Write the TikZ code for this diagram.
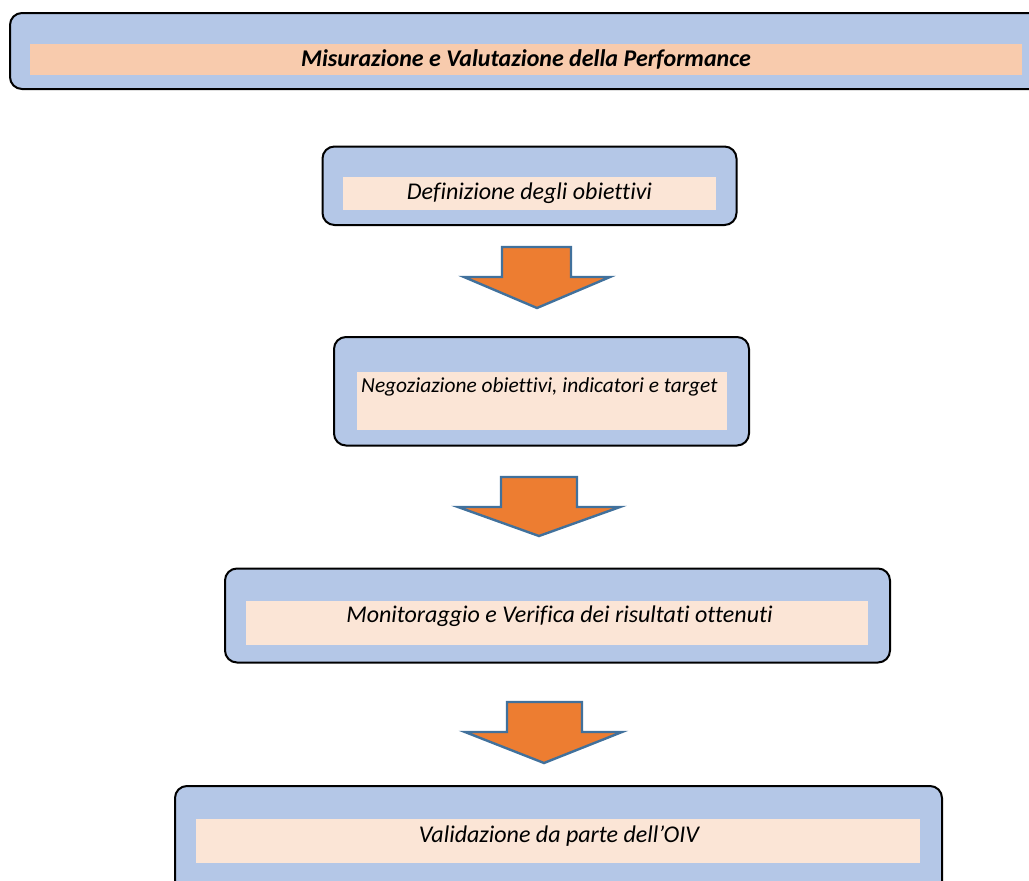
\documentclass[tikz,border=0pt]{standalone}
\usepackage{fontspec}
\setmainfont{Carlito}[Ligatures=CommonOff]
\definecolor{boxblue}{HTML}{B4C7E7}
\definecolor{bandtop}{HTML}{F8CBAD}
\definecolor{band}{HTML}{FBE5D6}
\definecolor{arrfill}{HTML}{ED7D31}
\definecolor{arrline}{HTML}{41719C}
\begin{document}
\begin{tikzpicture}[x=1pt,y=-1pt,
  outerbox/.style={draw=black, line width=2pt, fill=boxblue, rounded corners=12pt},
  label/.style={font=\itshape\fontsize{24}{28}\selectfont, inner sep=0pt},
  blockarrow/.style={fill=arrfill, draw=arrline, line width=2.4pt, line join=miter}]
\useasboundingbox (0,0) rectangle (1029,881);
\begin{scope}
\clip (0,0) rectangle (1029,881);
% title bar
\draw[outerbox] (10,13) rectangle (1060,89);
\fill[bandtop] (30,44) rectangle (1022,75);
\node[label, font=\bfseries\itshape\fontsize{24}{28}\selectfont] (title) at (526,59.5) {Misurazione e Valutazione della Performance};
% step 1
\draw[outerbox] (322.5,146.5) rectangle (736.5,225);
\fill[band] (343,177) rectangle (716,210);
\node[label] (s1) at (529.5,193) {Definizione degli obiettivi};
% step 2
\draw[outerbox] (334,337) rectangle (749,445.5);
\fill[band] (357,372) rectangle (727,430);
\node[label, font=\itshape\fontsize{21.4}{25}\selectfont, anchor=base west] (s2) at (361,392) {Negoziazione obiettivi, indicatori e target};
% step 3
\draw[outerbox] (225,568.5) rectangle (890,662.5);
\fill[band] (246,601) rectangle (868,645);
\node[label] (s3) at (559.5,616) {Monitoraggio e Verifica dei risultati ottenuti};
% step 4
\draw[outerbox] (175,786) rectangle (942,900);
\fill[band] (196,819) rectangle (920,862.5);
\node[label] (s4) at (559,836) {Validazione da parte dell’OIV};
\end{scope}
% block arrows between the steps
\draw[blockarrow] (502,247) -- (571,247) -- (571,277) -- (610,277) -- (537,308) -- (464,277) -- (502,277) -- cycle;
\draw[blockarrow] (501,477) -- (577,477) -- (577,507) -- (620,507) -- (539,536) -- (458,507) -- (501,507) -- cycle;
\draw[blockarrow] (507,702) -- (582,702) -- (582,732) -- (622,732) -- (544,763) -- (465,732) -- (507,732) -- cycle;
\end{tikzpicture}
\end{document}
